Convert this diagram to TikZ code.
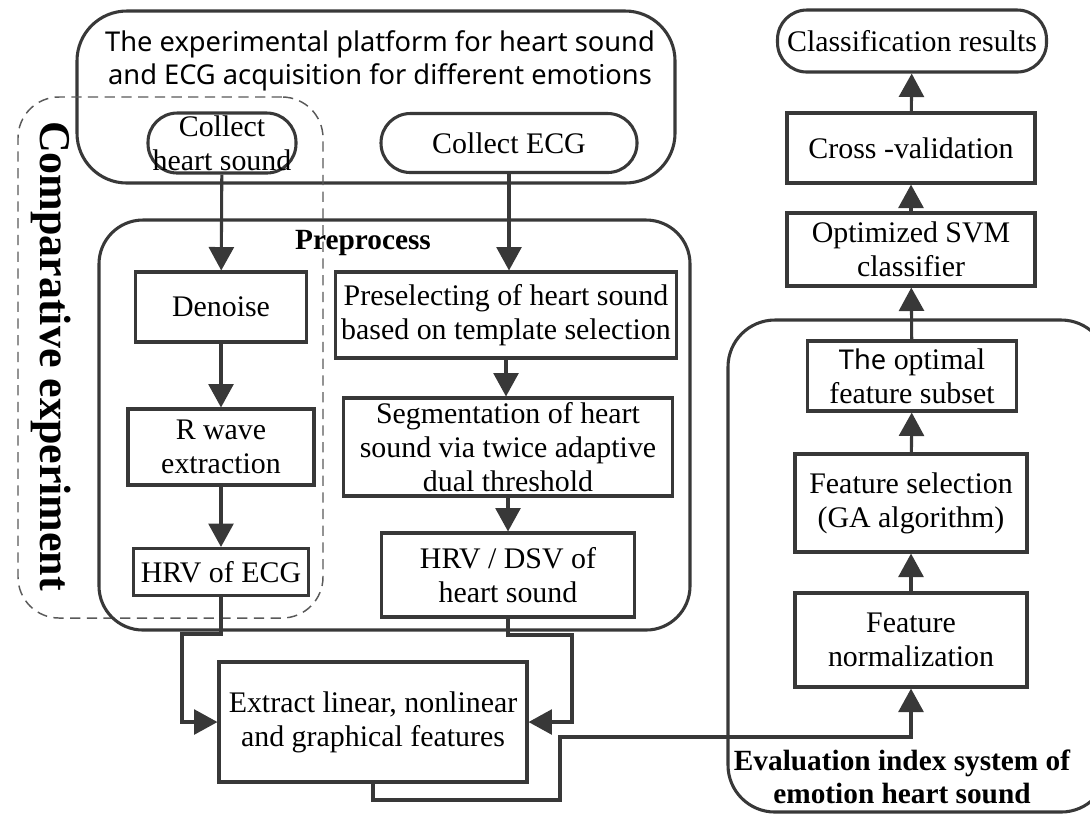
\documentclass[tikz,border=0pt]{standalone}
\usepackage{fontspec}
\setmainfont{Liberation Serif}
\setsansfont{Noto Sans}
\usetikzlibrary{arrows.meta}
\newcommand{\pxu}{0.012cm}
\colorlet{linec}{black!78}

\begin{document}
\begin{tikzpicture}[x=\pxu, y=-\pxu,
        box/.style={draw=linec, line width=1.05pt, align=center, inner sep=0pt,
                    font=\fontsize{10.2}{11.6}\selectfont},
        pill/.style={box, rounded corners=10pt},
        group/.style={draw=linec, line width=1.05pt, inner sep=0pt},
        sz/.style 2 args={minimum width=#1*\pxu, minimum height=#2*\pxu},
        arr/.style={draw=linec, line width=1.05pt, -{Triangle[length=8pt,width=8.5pt]}}]
        \useasboundingbox (0,0) rectangle (1090,814);
        \clip (0,0) rectangle (1090,814);

        % acquisition platform
        \node (plat)  [group, rounded corners=17pt, sz={598}{172}] at (376,97) {};
        \node (platt) [align=center, font=\sffamily\fontsize{9.3}{11.3}\selectfont] at (380,61)
              {The experimental platform for heart sound\\and ECG acquisition for different emotions};
        \node (chs)   [pill, sz={148}{60}] at (222,143) {Collect\\heart sound};
        \node (cecg)  [pill, sz={256}{59}] at (509,143) {Collect ECG};

        % comparative experiment
        \node (cmp)   [draw=black!65, line width=0.5pt, dash pattern=on 3.5pt off 2.2pt,
                       rounded corners=14pt, sz={305}{521}] at (170.5,357.5) {};
        \node (cmpt)  [rotate=-90, font=\bfseries\fontsize{15}{18}\selectfont] at (51,356)
              {Comparative experiment};

        % preprocess
        \node (prep)  [group, rounded corners=15pt, sz={591}{410}] at (394.5,425) {};
        \node (prept) [font=\bfseries\fontsize{10}{12}\selectfont] at (363,243) {Preprocess};
        \node (dn)    [box, sz={171}{70}] at (221,307) {Denoise};
        \node (rw)    [box, sz={186}{76}] at (221,447) {R wave\\extraction};
        \node (hrve)  [box, sz={175}{47}] at (221,572) {HRV of ECG};
        \node (pre)   [box, sz={341}{86}] at (506,315) {Preselecting of heart sound\\based on template selection};
        \node (seg)   [box, sz={329}{98}] at (508,447) {Segmentation of heart\\sound via twice adaptive\\dual threshold};
        \node (hrvd)  [box, sz={253}{84}] at (508,575) {HRV / DSV of\\heart sound};
        \node (ext)   [box, sz={308}{120}] at (373,722) {Extract linear, nonlinear\\and graphical features};

        % evaluation and classification
        \node (cls)   [pill, sz={269}{62}] at (912,41) {Classification results};
        \node (cv)    [box, sz={248}{70}] at (911,148) {Cross -validation};
        \node (svm)   [box, sz={248}{73}] at (911,249.5) {Optimized SVM\\classifier};
        \node (eval)  [group, rounded corners=16pt, sz={380}{492}] at (918,566) {};
        \node (opt)   [box, sz={209}{70}] at (912,376) {{\sffamily\fontsize{9.3}{11.6}\selectfont The} optimal\\feature subset};
        \node (fsel)  [box, sz={232}{98}] at (911,503) {Feature selection\\(GA algorithm)};
        \node (fnorm) [box, sz={232}{94}] at (911,640) {Feature\\normalization};
        \node (evalt) [align=center, font=\bfseries\fontsize{10}{11.3}\selectfont] at (902,777)
              {Evaluation index system of\\emotion heart sound};

        \coordinate (l1) at (182,634);
        \coordinate (r1) at (572,635);
        \coordinate (b1) at (560,800);
        \coordinate (b2) at (560,737);

        \draw[arr] (chs) -- (dn);
        \draw[arr] (cecg.south) -- (cecg.south |- pre.north);
        \draw[arr] (dn) -- (rw);
        \draw[arr] (rw) -- (hrve);
        \draw[arr] (pre.south) -- (pre.south |- seg.north);
        \draw[arr] (seg) -- (hrvd);
        \draw[arr] (hrve.south) |- (l1) |- (ext.west);
        \draw[arr] (hrvd.south) |- (r1) |- (ext.east);
        \draw[arr] (ext.south) |- (b1) -- (b2) -| (fnorm.south);
        \draw[arr] (fnorm) -- (fsel);
        \draw[arr] (fsel) -- (opt);
        \draw[arr] (opt) -- (svm);
        \draw[arr] (svm) -- (cv);
        \draw[arr] (cv) -- (cls);
    \end{tikzpicture}
\end{document}
